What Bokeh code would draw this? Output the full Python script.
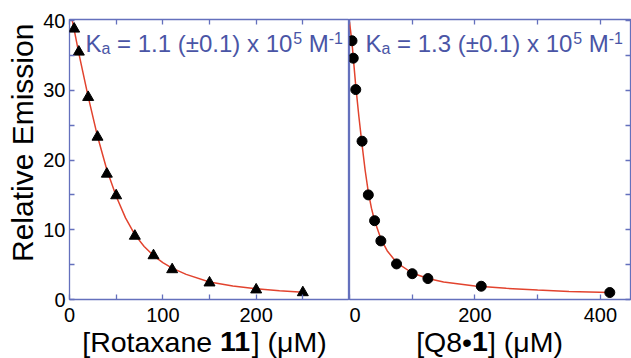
import math
from bokeh.plotting import figure
from bokeh.models import Range1d, LinearAxis, FixedTicker, Label, CustomJSTickFormatter
from bokeh.layouts import row, column
from bokeh.embed import file_html
from bokeh.resources import INLINE

# ---------------- data ----------------
rot_x = [5, 10, 20, 30, 40, 50, 70, 90, 110, 150, 200, 250]
rot_y = [38.8, 35.5, 29.0, 23.3, 18.0, 14.9, 9.1, 6.3, 4.3, 2.4, 1.4, 1.0]
rot_fit_x = [3, 5, 10, 20, 30, 40, 50, 60, 70, 80, 90, 100, 110, 125, 150, 175, 200, 225, 250]
rot_fit_y = [40.0, 38.7, 35.3, 29.1, 23.4, 18.6, 14.8, 11.7, 9.3, 7.6, 6.3, 5.3, 4.5, 3.6, 2.5, 1.95, 1.55, 1.25, 1.05]

q8_x = [4, 6, 10, 20, 30, 40, 50, 75, 100, 125, 210, 415]
q8_y = [37.1, 34.6, 30.1, 22.7, 15.0, 11.3, 8.4, 5.1, 3.7, 3.0, 1.9, 1.0]
q8_fit_x = [0, 2, 4, 6, 10, 15, 20, 25, 30, 35, 40, 50, 60, 75, 100, 125, 150, 200, 250, 300, 350, 415]
q8_fit_y = [39.8, 38.3, 36.8, 34.7, 30.6, 26.2, 22.2, 18.5, 15.4, 13.1, 11.3, 8.7, 7.0, 5.3, 3.8, 3.0, 2.5, 1.95, 1.6, 1.35, 1.15, 1.0]

y_ticks = [0, 10, 20, 30, 40]
y_minor = [5, 15, 25, 35]
rot_ticks = [0, 100, 200]
rot_minor = [50, 150, 250]
rot_top = [0, 50, 100, 150, 200, 250, 300]
q8_ticks = [0, 200, 400]
q8_minor = [100, 300]
q8_top = [0, 100, 200, 300, 400]
q8_right = [0, 5, 10, 15, 20, 25, 30, 35, 40]

y_title = "Relative Emission"
ka_left = ["K", "a", " = 1.1 (\u00b10.1) x 10", "5", " M", "-1"]
ka_right = ["K", "a", " = 1.3 (\u00b10.1) x 10", "5", " M", "-1"]
xt_left = ["[Rotaxane ", "11", "] (\u03bcM)"]
xt_right = ["[Q8\u2022", "1", "] (\u03bcM)"]

# ---------------- style ----------------
FONT = "Liberation Sans"
FRAME = "#6470bd"
TXTBLUE = "#4a55a6"
RED = "#e2432e"

W = {' ': 278, '=': 584, '1': 556, '.': 278, '(': 333, ')': 333, '\u00b1': 584, '0': 556,
     'x': 500, '3': 556, 'K': 667, 'a': 556, 'M': 833, '5': 556, '-': 333, '[': 278,
     ']': 278, 'R': 722, 'o': 556, 't': 278, 'n': 556, 'e': 556, '\u03bc': 576, 'Q': 778,
     '8': 556, '\u2022': 350}


def tw(s, size):
    return sum(W.get(c, 556) for c in s) * size / 1000.0


def style_fig(p):
    p.outline_line_color = FRAME
    p.outline_line_width = 1.3
    p.grid.visible = False
    p.background_fill_color = "white"
    p.border_fill_color = "white"


def blank_fig(w, h):
    f = figure(width=w, height=h, output_backend="svg", toolbar_location=None,
               x_range=Range1d(0, w), y_range=Range1d(0, h),
               x_axis_location=None, y_axis_location=None,
               min_border_left=0, min_border_right=0, min_border_top=0, min_border_bottom=0)
    f.outline_line_color = None
    f.grid.visible = False
    return f


def add_axis(p, loc, ticks, minor, labels=True):
    ax = LinearAxis(ticker=FixedTicker(ticks=ticks, minor_ticks=minor))
    ax.axis_line_color = None
    ax.major_tick_line_color = FRAME
    ax.minor_tick_line_color = FRAME
    ax.major_tick_line_width = 1.3
    ax.minor_tick_line_width = 1.3
    ax.major_tick_in = 5
    ax.major_tick_out = 0
    ax.minor_tick_in = 5
    ax.minor_tick_out = 0
    if labels:
        ax.major_label_text_font = FONT
        ax.major_label_text_font_size = "20px"
        ax.major_label_text_color = "black"
        ax.major_label_standoff = 4 if loc in ("left", "right") else 8
    else:
        ax.formatter = CustomJSTickFormatter(code="return ''")
        ax.major_label_text_font_size = "0px"
        ax.major_label_standoff = 0
    p.add_layout(ax, loc)
    return ax


def layout_pieces(pieces, x0):
    """pieces: (text, size, dy, bold) -> (x, text, size, dy, bold); spaces folded into x."""
    out = []
    x = x0
    for text, size, dy, bold in pieces:
        lead = len(text) - len(text.lstrip(" "))
        trail = len(text) - len(text.rstrip(" "))
        core = text.strip(" ")
        x += tw(" " * lead, size)
        out.append((x, core, size, dy, bold))
        x += tw(core, size) + tw(" " * trail, size)
    return out


def add_labels(p, pieces, x0, y0, color):
    for x, text, size, dy, bold in layout_pieces(pieces, x0):
        p.add_layout(Label(x=x, y=y0 + dy, x_units="screen", y_units="screen", text=text,
                           text_font=FONT, text_font_size=f"{size}px", text_color=color,
                           text_font_style="bold" if bold else "normal",
                           text_align="left", text_baseline="alphabetic"))


def ka_pieces(parts):
    M, S = 24, 16
    return [(parts[0], M, 0, False), (parts[1], S, -5, False), (parts[2], M, 0, False),
            (parts[3], S, 6, False), (parts[4], M, 0, False), (parts[5], S, 6, False)]


H = 330
TOP = 19
BOT = 31
TW = 28.5  # x title font size
YT = 30    # y title font size
KA_Y = 256

# ---------------- left panel ----------------
p1 = figure(width=349, height=H, output_backend="svg", toolbar_location=None,
            x_range=Range1d(0, 300), y_range=Range1d(0, 40.15),
            x_axis_location=None, y_axis_location=None,
            min_border_left=69, min_border_right=0, min_border_top=TOP, min_border_bottom=BOT)
style_fig(p1)
yax = add_axis(p1, "left", y_ticks, y_minor)
yax.axis_label = "\u00a0" * 4 + y_title
yax.axis_label_text_font = FONT
yax.axis_label_text_font_size = f"{YT}px"
yax.axis_label_text_font_style = "normal"
yax.axis_label_text_color = "black"
yax.axis_label_standoff = 1
add_axis(p1, "below", rot_ticks, rot_minor)
add_axis(p1, "above", rot_top, [], labels=False)

p1.line(rot_fit_x, rot_fit_y, line_color=RED, line_width=1.5)
p1.scatter(rot_x, rot_y, marker="triangle", size=11, fill_color="black", line_color="black")
add_labels(p1, ka_pieces(ka_left), 16, KA_Y, TXTBLUE)

# ---------------- right panel ----------------
p2 = figure(width=631 - 349, height=H, output_backend="svg", toolbar_location=None,
            x_range=Range1d(0, 448), y_range=Range1d(0, 40.15),
            x_axis_location=None, y_axis_location=None,
            min_border_left=0, min_border_right=1, min_border_top=TOP, min_border_bottom=BOT)
style_fig(p2)
add_axis(p2, "below", q8_ticks, q8_minor)
add_axis(p2, "above", q8_top, [], labels=False)
add_axis(p2, "right", q8_right, [], labels=False)

p2.line(q8_fit_x, q8_fit_y, line_color=RED, line_width=1.5)
p2.scatter(q8_x, q8_y, marker="circle", size=10, fill_color="black", line_color="black")
add_labels(p2, ka_pieces(ka_right), 16, KA_Y, TXTBLUE)

# ---------------- x title strip ----------------
XH = 358 - H
xfig = blank_fig(631, XH)


def put_title(parts, center):
    pcs = [(parts[0], TW, 0, False), (parts[1], TW, 0, True), (parts[2], TW, 0, False)]
    total = sum(tw(t, TW) for t, _, _, _ in pcs)
    add_labels(xfig, pcs, center - total / 2, 17, "black")


put_title(xt_left, 204)
put_title(xt_right, 489)

layout = column(row(p1, p2, spacing=0), xfig, spacing=0)
open("out.html", "w").write(file_html(layout, INLINE))
